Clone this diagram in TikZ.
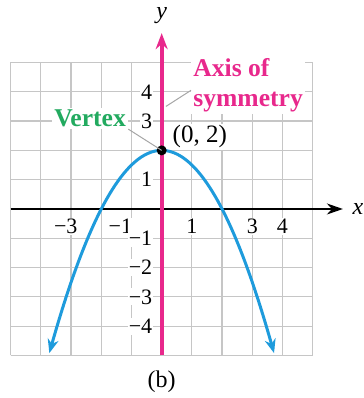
\documentclass[tikz,border=0pt]{standalone}
\usepackage{fontspec}
\setmainfont{Liberation Serif}
\usetikzlibrary{arrows.meta,positioning}
\definecolor{axispink}{RGB}{232,40,140}
\definecolor{curveblue}{RGB}{30,155,220}
\definecolor{vtxgreen}{RGB}{34,170,95}

\begin{document}
\begin{tikzpicture}[x=15.1pt,y=14.65pt,
  ticklab/.style={font=\fontsize{11}{12}\selectfont,fill=white,inner sep=0.6pt},
  callout/.style={font=\fontsize{12.8}{15}\selectfont\bfseries,fill=white,inner sep=1pt},
  leader/.style={gray!70,line width=0.5pt}]
  \useasboundingbox (-5.354,-6.451) rectangle (6.699,7.133);

  \draw[gray!45,line width=0.6pt,step=1] (-5,-5) grid (5,5);

  % tick labels
  \foreach \x/\p in {-3/-2.97,-1/-1.16}
    \node[ticklab] (xt\x) at (\p,-0.6) {\llap{−}\the\numexpr-\x\relax};
  \foreach \x in {1,3,4}
    \node[ticklab] (xt\x) at (\x,-0.6) {\x};
  \foreach \y in {4,3,1,-1,-2,-3,-4}
    \node[ticklab,anchor=east] (yt\y) at (-0.26,\y) {\ifnum\y<0 −\the\numexpr-\y\relax\else\y\fi};

  % axes
  \coordinate (xl) at (-5,0);
  \coordinate (xr) at (6,0);
  \coordinate (yb) at (0,-5);
  \coordinate (yt) at (0,6);
  \draw[line width=1pt,-{Stealth[length=8pt,width=5.5pt]}] (xl) -- (xr);
  \node[font=\itshape\fontsize{12}{13}\selectfont] (xlab) at (6.5,0) {x};
  \node[font=\itshape\fontsize{12}{13}\selectfont] (ylab) at (0,6.6) {y};

  % parabola
  \draw[curveblue,line width=1.5pt,{Stealth[length=7pt,width=5.5pt]}-{Stealth[length=7pt,width=5.5pt]},
    domain=-3.72:3.72,samples=120,smooth] plot (\x,{2-0.5*\x*\x});

  \draw[axispink,line width=2pt,-{Stealth[length=8pt,width=6pt]}] (yb) -- (yt);

  % vertex
  \coordinate (V) at (0,2);
  \fill (V) circle (2.5pt);
  \node[font=\fontsize{12.5}{14}\selectfont,fill=white,inner sep=0.8pt,anchor=west] (vlab) at (0.3,2.47) {(0, 2)};
  \node[callout,text=vtxgreen] (vtx) at (-2.37,3.1) {Vertex};
  \draw[leader] (vtx.south east) -- (V);

  % axis of symmetry
  \node[callout,text=axispink,align=left,anchor=west] (sym) at (0.97,4.22) {Axis of\\symmetry};
  \coordinate (symtip) at (0.14,3.5);
  \draw[leader] ([yshift=-2.5pt]sym.west) -- (symtip);

  \node[font=\fontsize{12}{13}\selectfont] (cap) at (0,-5.9) {(b)};
\end{tikzpicture}
\end{document}
